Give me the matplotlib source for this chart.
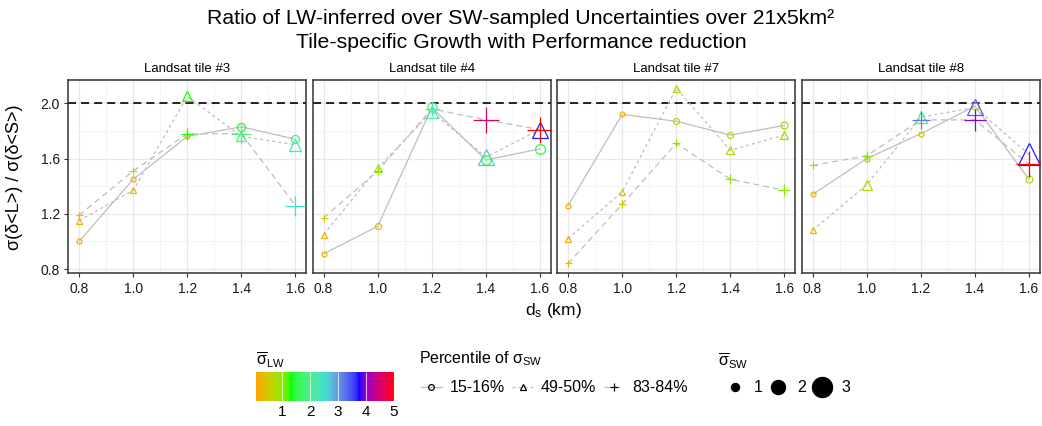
import numpy as np
import matplotlib.pyplot as plt
from matplotlib.colors import ListedColormap, Normalize, to_rgb
from matplotlib.lines import Line2D

plt.rcParams['font.family'] = ['Liberation Sans', 'DejaVu Sans']
plt.rcParams['mathtext.fontset'] = 'custom'
plt.rcParams['mathtext.rm'] = 'Liberation Sans'
plt.rcParams['mathtext.it'] = 'Liberation Sans:italic'
plt.rcParams['mathtext.bf'] = 'Liberation Sans:bold'
plt.rcParams['lines.scale_dashes'] = False

# ---- data ----
ds = [0.8, 1.0, 1.2, 1.4, 1.6]
tiles = ["Landsat tile #3", "Landsat tile #4", "Landsat tile #7", "Landsat tile #8"]
percentiles = ["15-16%", "49-50%", "83-84%"]

# rows: 15-16%, 49-50%, 83-84%
tile3_ratio = [[1.00, 1.45, 1.76, 1.83, 1.74],
               [1.15, 1.37, 2.05, 1.76, 1.70],
               [1.19, 1.51, 1.78, 1.78, 1.26]]
tile3_lw = [[0.2, 0.3, 0.4, 1.4, 1.8],
            [0.3, 0.3, 1.3, 1.8, 2.4],
            [0.35, 0.4, 1.3, 1.9, 2.5]]
tile3_sw = [[0.5, 0.5, 0.5, 1.0, 1.0],
            [0.5, 0.5, 1.0, 1.0, 1.3],
            [0.5, 0.6, 1.1, 2.0, 2.0]]

tile4_ratio = [[0.91, 1.11, 1.97, 1.59, 1.67],
               [1.05, 1.53, 1.94, 1.61, 1.81],
               [1.17, 1.51, 1.96, 1.88, 1.81]]
tile4_lw = [[0.3, 0.4, 1.8, 1.5, 1.5],
            [0.3, 0.9, 2.2, 2.7, 3.7],
            [0.4, 0.9, 2.4, 4.5, 5.0]]
tile4_sw = [[0.5, 0.67, 1.2, 1.2, 1.3],
            [0.47, 0.73, 1.27, 1.8, 1.8],
            [0.5, 0.73, 1.33, 2.65, 2.65]]

tile7_ratio = [[1.26, 1.92, 1.87, 1.77, 1.84],
               [1.02, 1.36, 2.11, 1.66, 1.77],
               [0.84, 1.27, 1.71, 1.45, 1.37]]
tile7_lw = [[0.2, 0.3, 0.6, 0.8, 0.8],
            [0.2, 0.4, 0.8, 0.8, 0.9],
            [0.3, 0.5, 1.0, 0.9, 1.0]]
tile7_sw = [[0.5, 0.5, 0.67, 0.67, 0.83],
            [0.47, 0.47, 0.6, 0.73, 0.73],
            [0.5, 0.6, 0.73, 0.85, 1.1]]

tile8_ratio = [[1.34, 1.60, 1.78, 1.98, 1.45],
               [1.08, 1.41, 1.90, 1.97, 1.63],
               [1.55, 1.62, 1.88, 1.88, 1.56]]
tile8_lw = [[0.2, 0.5, 0.4, 0.7, 0.8],
            [0.4, 0.8, 1.9, 3.4, 3.7],
            [0.7, 1.1, 3.2, 4.0, 5.0]]
tile8_sw = [[0.5, 0.5, 0.5, 0.83, 0.83],
            [0.47, 0.87, 1.27, 1.8, 2.6],
            [0.6, 0.85, 1.7, 2.3, 2.65]]

ratios = [tile3_ratio, tile4_ratio, tile7_ratio, tile8_ratio]
lws = [tile3_lw, tile4_lw, tile7_lw, tile8_lw]
sws = [tile3_sw, tile4_sw, tile7_sw, tile8_sw]

size_keys = [1, 2, 3]
cbar_ticks = [1, 2, 3, 4, 5]
gradient_colours = ["orange", "#00FF00", "turquoise", "blue", "red"]

# ---- colour ramp interpolated in CIELAB (like ggplot's gradientn) ----
M = np.array([[0.4124, 0.3576, 0.1805],
              [0.2126, 0.7152, 0.0722],
              [0.0193, 0.1192, 0.9505]])
Minv = np.linalg.inv(M)
wp = np.array([0.95047, 1.0, 1.08883])
d = 6 / 29


def to_lab(rgb):
    c = np.asarray(rgb, float)
    lin = np.where(c <= 0.04045, c / 12.92, ((c + 0.055) / 1.055) ** 2.4)
    t = (M @ lin) / wp
    f = np.where(t > d ** 3, np.cbrt(t), t / (3 * d ** 2) + 4 / 29)
    return np.array([116 * f[1] - 16, 500 * (f[0] - f[1]), 200 * (f[1] - f[2])])


def from_lab(lab):
    L, a, b = lab
    f1 = (L + 16) / 116
    f = np.array([f1 + a / 500, f1, f1 - b / 200])
    t = np.where(f > d, f ** 3, 3 * d ** 2 * (f - 4 / 29))
    lin = np.clip(Minv @ (t * wp), 0, 1)
    c = np.where(lin <= 0.0031308, 12.92 * lin, 1.055 * lin ** (1 / 2.4) - 0.055)
    return np.clip(c, 0, 1)


labs = np.array([to_lab(to_rgb(c)) for c in gradient_colours])
pos = np.linspace(0, 1, len(labs))
ramp = []
for u in np.linspace(0, 1, 256):
    lab = np.array([np.interp(u, pos, labs[:, k]) for k in range(3)])
    ramp.append(from_lab(lab))
cmap = ListedColormap(ramp)
norm = Normalize(0.07, 5.0)

# ---- figure ----
W, H = 1042, 426
fig = plt.figure(figsize=(W / 100, H / 100), dpi=100)


def fx(x):
    return x / W


def fy(y):
    return 1 - y / H


markers = ['o', '^', '+']
mult = [1.0, 1.25, 1.4]
linestyles = ['-', (0, (2.2, 2.2)), (0, (4.3, 2.9))]
grey = '#BEBEBE'


def ms_of(sw, k):
    d_px = (2 + 6 * sw) * mult[k]
    return d_px * 72 / 100


panel_w = 238
for i in range(4):
    left = 68.3 + i * 244.5
    ax = fig.add_axes([fx(left), fy(273.3), fx(panel_w), (273.3 - 80) / H])
    ax.set_xlim(0.76, 1.64)
    ax.set_ylim(0.769, 2.169)
    ax.set_xticks([0.8, 1.0, 1.2, 1.4, 1.6])
    ax.set_xticks([0.9, 1.1, 1.3, 1.5], minor=True)
    ax.set_yticks([0.8, 1.2, 1.6, 2.0])
    ax.set_yticks([1.0, 1.4, 1.8], minor=True)
    ax.grid(True, which='major', color='#E8E8E8', lw=0.9, zorder=0)
    ax.grid(True, which='minor', color='#F2F2F2', lw=0.6, zorder=0)
    ax.set_axisbelow(True)
    for s in ax.spines.values():
        s.set_color('#333333')
        s.set_linewidth(1.1)
    ax.tick_params(which='minor', length=0)
    ax.tick_params(axis='x', which='major', length=3, width=0.8, color='#333333',
                   labelsize=10, labelcolor='#1a1a1a', pad=3)
    if i == 0:
        ax.tick_params(axis='y', which='major', length=3, width=0.8, color='#333333',
                       labelsize=10, labelcolor='#1a1a1a', pad=3)
        ax.set_yticklabels(['0.8', '1.2', '1.6', '2.0'])
    else:
        ax.tick_params(axis='y', which='major', length=0, labelleft=False)
    ax.set_xticklabels(['0.8', '1.0', '1.2', '1.4', '1.6'])

    ax.axhline(2.0, color='black', lw=1.2, ls=(0, (5.8, 3.6)), zorder=1)

    for k in range(3):
        ax.plot(ds, ratios[i][k], color=grey, lw=0.9, ls=linestyles[k], zorder=2)
    for k in range(3):
        for j in range(len(ds)):
            ax.plot(ds[j], ratios[i][k][j], ls='none', marker=markers[k],
                    ms=ms_of(sws[i][k][j], k), mfc='none',
                    mec=cmap(norm(lws[i][k][j])), mew=0.9, zorder=3)

    ax.text(0.5, 1.055, tiles[i], transform=ax.transAxes, ha='center', va='center',
            fontsize=9.5)

# titles and axis labels
fig.text(0.5, fy(18), "Ratio of LW-inferred over SW-sampled Uncertainties over 21x5km²",
         ha='center', va='center', fontsize=15.3)
fig.text(0.5, fy(43), "Tile-specific Growth with Performance reduction",
         ha='center', va='center', fontsize=15.3)
fig.text(fx(15), fy(177), "σ(δ<L>) / σ(δ<S>)", rotation=90, ha='center', va='center',
         fontsize=13)
fig.text(fx(553), fy(311), r"d$_\mathrm{s}$ (km)", ha='center', va='center', fontsize=12.5)

# colour bar legend
cax = fig.add_axes([fx(256), fy(401), fx(138), (401 - 372) / H])
grad = np.linspace(norm.vmin, norm.vmax, 256)[None, :]
cax.imshow(grad, cmap=cmap, norm=norm, aspect='auto',
           extent=(norm.vmin, norm.vmax, 0, 1))
cax.vlines(cbar_ticks, 0, 1, color='white', lw=0.8, alpha=0.7)
cax.set_xlim(norm.vmin, norm.vmax)
cax.set_ylim(0, 1)
cax.set_yticks([])
cax.set_xticks(cbar_ticks)
cax.set_xticklabels([str(t) for t in cbar_ticks])
cax.tick_params(axis='x', length=0, labelsize=11, pad=3)
for s in cax.spines.values():
    s.set_visible(False)
fig.text(fx(256), fy(360), r"$\overline{\mathrm{\sigma}}_{\mathrm{LW}}$",
         ha='left', va='center', fontsize=11.5)

# percentile legend
fig.text(fx(419), fy(359), r"Percentile of $\mathrm{\sigma}_{\mathrm{SW}}$",
         ha='left', va='center', fontsize=11.5)
pct_handles = [Line2D([], [], color=grey, lw=0.9, ls=linestyles[k], marker=markers[k],
                      ms=ms_of(0.5, k) + 0.5, mfc='none', mec='black', mew=0.9)
               for k in range(3)]
fig.legend(pct_handles, percentiles, ncol=3, loc='center left',
           bbox_to_anchor=(fx(421), fy(388)), frameon=False, fontsize=11.5,
           handlelength=1.3, handletextpad=0.5, columnspacing=0.45, borderpad=0,
           borderaxespad=0)

# size legend
fig.text(fx(718), fy(361), r"$\overline{\mathrm{\sigma}}_{\mathrm{SW}}$",
         ha='left', va='center', fontsize=11.5)
size_handles = [Line2D([], [], ls='none', marker='o', color='black',
                       ms=ms_of(s, 0)) for s in size_keys]
fig.legend(size_handles, [str(s) for s in size_keys], ncol=3, loc='center left',
           bbox_to_anchor=(fx(721), fy(388)), frameon=False, fontsize=11.5,
           handlelength=1.7, handletextpad=0.34, columnspacing=0.15, borderpad=0,
           borderaxespad=0)

fig.savefig("out.png", dpi=100)
